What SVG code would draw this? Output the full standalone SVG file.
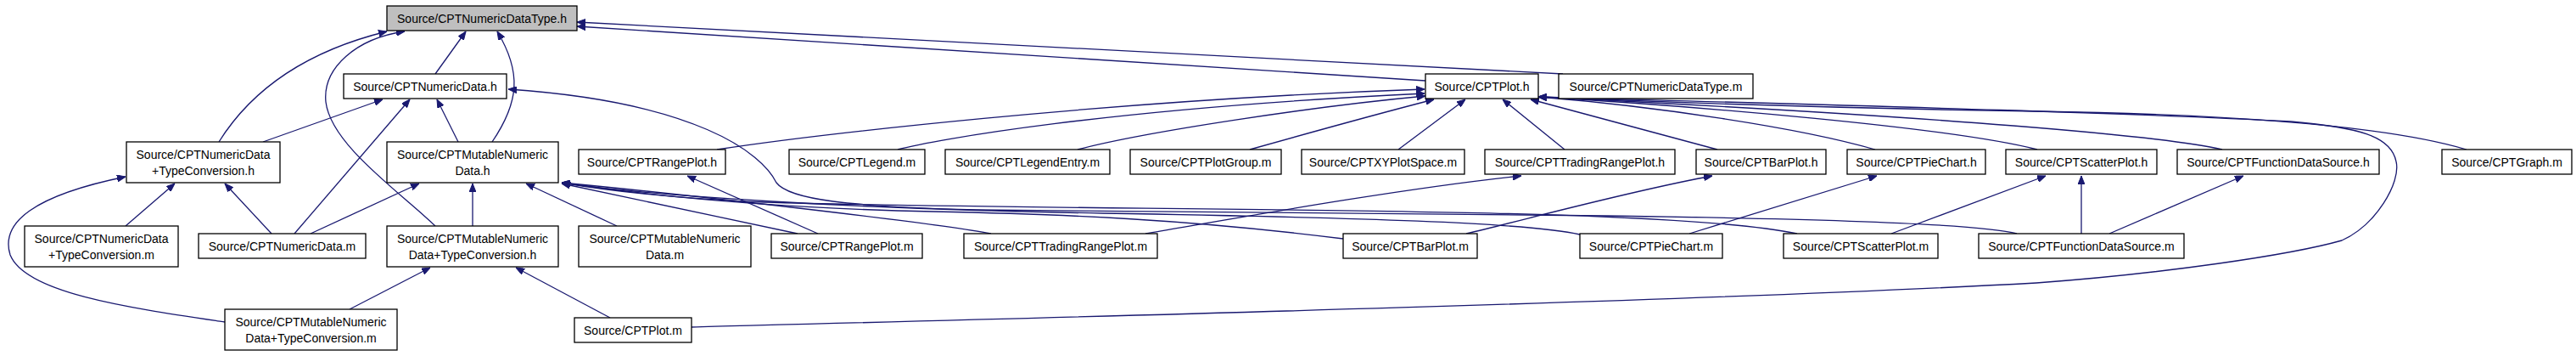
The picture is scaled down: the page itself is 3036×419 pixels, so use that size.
<svg xmlns="http://www.w3.org/2000/svg" width="3036" height="419" viewBox="0 0 3036 419">
<defs>
<style>
.n rect{fill:#fff;stroke:#000;stroke-width:1.3}
.n.hl rect{fill:#bfbfbf}
.n text{font-family:"Liberation Sans",Arial,sans-serif;font-size:14px;fill:#000;text-anchor:middle}
.e path{fill:none;stroke:#191970;stroke-width:1.3;marker-end:url(#ah)}
</style>
<marker id="ah" viewBox="0 0 10 8" refX="10" refY="4" markerWidth="10" markerHeight="8" markerUnits="userSpaceOnUse" orient="auto">
<path d="M0,0 L10,4 L0,8 z" fill="#191970" stroke="#191970" stroke-width="1"/>
</marker>
</defs>
<rect width="3036" height="419" fill="#fff"/>
<g id="edges" class="e">
<path d="M513,87 L549,37"/>
<path d="M580,167 C612,120 615,85 586,37"/>
<path d="M258,167 C300,100 370,58 456,37"/>
<path d="M513,266 C470,225 390,170 384,120 C380,80 420,45 477,37"/>
<path d="M1680,95 L680,31"/>
<path d="M1842,87 L680,26"/>
<path d="M310,167 L451,117"/>
<path d="M347,275 L483,117"/>
<path d="M540,167 L515,117"/>
<path d="M2377,275 C2330,262 2100,256 1800,253 L1150,247 C1000,243 930,235 915,215 C898,180 820,120 599,105"/>
<path d="M366,275 L494,216"/>
<path d="M557,266 L557,216"/>
<path d="M727,266 L620,216"/>
<path d="M940,275 L662,216"/>
<path d="M1168,275 C1100,262 800,228 662,215"/>
<path d="M1583,281 C1400,258 1250,252 1100,249 C900,245 750,228 662,215"/>
<path d="M1862,276 C1800,262 1600,256 1300,251 C1000,246 760,230 662,215"/>
<path d="M2118,275 C1950,240 1300,250 900,238 Q760,232 662,215"/>
<path d="M845,176 C950,160 1300,118 1679,105"/>
<path d="M1058,176 C1100,165 1300,128 1679,110"/>
<path d="M1270,176 C1350,155 1550,125 1680,113"/>
<path d="M1473,176 C1530,160 1620,135 1690,117"/>
<path d="M1648,176 L1727,117"/>
<path d="M1844,176 L1771,117"/>
<path d="M2024,176 L1804,117"/>
<path d="M2210,176 C2120,150 1950,125 1813,114"/>
<path d="M2401,176 C2300,150 2000,125 1813,114"/>
<path d="M2619,176 C2550,160 2300,138 1813,114"/>
<path d="M2907,176 C2820,150 2650,135 2400,131 C2200,128 2000,122 1813,114"/>
<path d="M815,385 C1200,375 2000,355 2400,333 C2550,322 2700,300 2760,283 C2800,265 2830,215 2824,190 C2818,160 2780,150 2700,143 C2500,132 2100,122 1813,114"/>
<path d="M964,275 L810,207"/>
<path d="M1350,275 C1450,258 1650,222 1793,207"/>
<path d="M1728,275 C1800,258 1920,225 2018,207"/>
<path d="M1991,275 L2212,207"/>
<path d="M2229,275 L2411,207"/>
<path d="M2453,275 L2453,207"/>
<path d="M2486,275 L2644,207"/>
<path d="M412,364 L507,315"/>
<path d="M719,374 L608,315"/>
<path d="M148,266 L206,216"/>
<path d="M320,275 L265,216"/>
<path d="M265,379 C150,362 30,345 12,300 C0,262 40,230 148,208"/>
</g>
<g id="n1" class="n hl"><rect x="456" y="7" width="224" height="29"/><text x="568" y="26.5">Source/CPTNumericDataType.h</text></g>
<g id="n2" class="n"><rect x="405" y="87" width="192" height="29"/><text x="501" y="106.5">Source/CPTNumericData.h</text></g>
<g id="n3" class="n"><rect x="149" y="167" width="181" height="48"/><text x="239.5" y="187">Source/CPTNumericData</text><text x="239.5" y="205.5">+TypeConversion.h</text></g>
<g id="n4" class="n"><rect x="456" y="167" width="202" height="48"/><text x="557" y="187">Source/CPTMutableNumeric</text><text x="557" y="205.5">Data.h</text></g>
<g id="n5" class="n"><rect x="29" y="266" width="181" height="48"/><text x="119.5" y="286">Source/CPTNumericData</text><text x="119.5" y="304.5">+TypeConversion.m</text></g>
<g id="n6" class="n"><rect x="234" y="275" width="197" height="29"/><text x="332.5" y="294.5">Source/CPTNumericData.m</text></g>
<g id="n7" class="n"><rect x="456" y="266" width="202" height="48"/><text x="557" y="286">Source/CPTMutableNumeric</text><text x="557" y="304.5">Data+TypeConversion.h</text></g>
<g id="n8" class="n"><rect x="265" y="364" width="203" height="48"/><text x="366.5" y="384">Source/CPTMutableNumeric</text><text x="366.5" y="402.5">Data+TypeConversion.m</text></g>
<g id="n9" class="n"><rect x="677" y="374" width="138" height="29"/><text x="746" y="393.5">Source/CPTPlot.m</text></g>
<g id="n10" class="n"><rect x="682" y="176" width="173" height="29"/><text x="768.5" y="195.5">Source/CPTRangePlot.h</text></g>
<g id="n11" class="n"><rect x="930" y="176" width="160" height="29"/><text x="1010" y="195.5">Source/CPTLegend.m</text></g>
<g id="n12" class="n"><rect x="1114" y="176" width="194" height="29"/><text x="1211" y="195.5">Source/CPTLegendEntry.m</text></g>
<g id="n13" class="n"><rect x="1332" y="176" width="178" height="29"/><text x="1421" y="195.5">Source/CPTPlotGroup.m</text></g>
<g id="n14" class="n"><rect x="1534" y="176" width="192" height="29"/><text x="1630" y="195.5">Source/CPTXYPlotSpace.m</text></g>
<g id="n15" class="n"><rect x="1750" y="176" width="224" height="29"/><text x="1862" y="195.5">Source/CPTTradingRangePlot.h</text></g>
<g id="n16" class="n"><rect x="1999" y="176" width="153" height="29"/><text x="2075.5" y="195.5">Source/CPTBarPlot.h</text></g>
<g id="n17" class="n"><rect x="2177" y="176" width="163" height="29"/><text x="2258.5" y="195.5">Source/CPTPieChart.h</text></g>
<g id="n18" class="n"><rect x="2364" y="176" width="178" height="29"/><text x="2453" y="195.5">Source/CPTScatterPlot.h</text></g>
<g id="n19" class="n"><rect x="2566" y="176" width="238" height="29"/><text x="2685" y="195.5">Source/CPTFunctionDataSource.h</text></g>
<g id="n20" class="n"><rect x="2878" y="176" width="153" height="29"/><text x="2954.5" y="195.5">Source/CPTGraph.m</text></g>
<g id="n21" class="n"><rect x="1680" y="87" width="133" height="29"/><text x="1746.5" y="106.5">Source/CPTPlot.h</text></g>
<g id="n22" class="n"><rect x="1837" y="87" width="229" height="29"/><text x="1951.5" y="106.5">Source/CPTNumericDataType.m</text></g>
<g id="n23" class="n"><rect x="682" y="266" width="203" height="48"/><text x="783.5" y="286">Source/CPTMutableNumeric</text><text x="783.5" y="304.5">Data.m</text></g>
<g id="n24" class="n"><rect x="909" y="275" width="178" height="29"/><text x="998" y="294.5">Source/CPTRangePlot.m</text></g>
<g id="n25" class="n"><rect x="1136" y="275" width="228" height="29"/><text x="1250" y="294.5">Source/CPTTradingRangePlot.m</text></g>
<g id="n26" class="n"><rect x="1583" y="275" width="158" height="29"/><text x="1662" y="294.5">Source/CPTBarPlot.m</text></g>
<g id="n27" class="n"><rect x="1862" y="275" width="168" height="29"/><text x="1946" y="294.5">Source/CPTPieChart.m</text></g>
<g id="n28" class="n"><rect x="2102" y="275" width="182" height="29"/><text x="2193" y="294.5">Source/CPTScatterPlot.m</text></g>
<g id="n29" class="n"><rect x="2332" y="275" width="242" height="29"/><text x="2453" y="294.5">Source/CPTFunctionDataSource.m</text></g>
</svg>
